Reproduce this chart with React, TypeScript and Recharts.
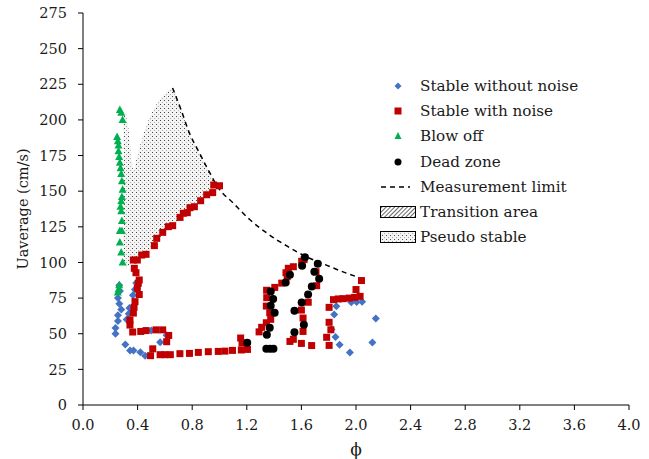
import React from 'react';
import { ComposedChart, Scatter, Line, Area, XAxis, YAxis, Legend } from 'recharts';

// phi / Uaverage pairs
const stableNoNoise = [
  [0.238, 50], [0.238, 54], [0.256, 59], [0.256, 63], [0.28, 67], [0.266, 71], [0.256, 75], [0.27, 80], [0.266, 84],
  [0.31, 42.5], [0.345, 38.3], [0.37, 38.3], [0.42, 37], [0.455, 34.6], [0.565, 44], [0.612, 49], [0.5, 52.2],
  [0.32, 60], [0.34, 68], [0.335, 64], [0.366, 77], [0.38, 81], [0.39, 85.5],
  [1.84, 63.5], [1.856, 69.2], [1.82, 53], [1.85, 47.7], [1.88, 42.3], [1.955, 36.9], [1.965, 72], [2.005, 72.2],
  [2.045, 72.5], [2.145, 60.6], [2.12, 43.9],
];

const stableWithNoise = [
  [0.958, 154.3], [1.0, 153.8], [0.95, 149], [0.906, 147.5], [0.862, 143.3], [0.816, 139.1], [0.784, 138.4],
  [0.764, 134.9], [0.735, 134.5], [0.711, 131.6], [0.657, 125.8], [0.625, 125.1], [0.584, 121.1], [0.54, 116.9],
  [0.523, 111.8], [0.462, 105.7], [0.43, 105.2], [0.398, 101.7], [0.369, 101.7], [0.376, 95.9], [0.388, 92.8],
  [0.412, 87.7], [0.405, 85.4], [0.398, 81.9], [0.412, 77.5], [0.381, 72.5], [0.374, 68.5], [0.369, 64.5],
  [0.344, 59.6], [0.344, 56.1], [0.364, 51.2], [0.423, 51.6], [0.462, 52.2], [0.535, 52.7], [0.584, 52.7],
  [0.628, 48.8], [0.613, 44.4], [0.511, 39.4], [0.495, 34.6], [0.565, 35.3], [0.6, 35.3], [0.64, 35.3],
  [0.71, 36], [0.78, 36.2], [0.845, 36.9], [0.918, 37.4], [0.991, 37.6], [1.04, 37.8], [1.095, 38.3],
  [1.16, 38.6], [1.205, 39], [1.155, 47], [1.165, 43.5],
  [1.602, 100.8], [1.62, 102], [1.541, 97], [1.504, 95.9], [1.487, 92.8], [1.496, 90], [1.456, 85.5],
  [1.405, 82.5], [1.345, 80.5], [1.346, 75.3], [1.343, 69.4], [1.368, 64.7], [1.375, 60.1], [1.343, 57.7],
  [1.309, 54.5], [1.29, 51.3], [1.707, 93.5], [1.712, 83.7], [1.65, 72.1], [1.6, 66.6], [1.612, 61],
  [1.612, 51.6], [1.541, 46.1], [1.516, 44.6], [1.6, 43.2], [1.675, 41.7],
  [2.04, 87.3], [2.0, 81], [2.03, 76.2], [1.99, 75.5], [1.95, 75], [1.905, 74.6], [1.87, 74.4], [1.835, 73.9],
  [1.803, 68.5], [1.803, 58], [1.816, 52.8], [1.785, 47.5], [1.803, 41.8],
];

const blowOff = [
  [0.27, 207], [0.28, 205], [0.29, 200], [0.25, 188], [0.255, 185], [0.26, 182], [0.26, 178], [0.265, 174],
  [0.27, 170], [0.275, 166], [0.28, 162], [0.285, 157], [0.29, 151], [0.285, 146], [0.28, 143], [0.275, 139],
  [0.28, 136], [0.285, 129], [0.27, 122], [0.285, 122], [0.27, 114], [0.28, 107], [0.29, 100], [0.265, 84],
  [0.26, 81], [0.255, 79],
];

const deadZone = [
  [1.626, 103.6], [1.605, 97.7], [1.72, 99.1], [1.695, 93.5], [1.73, 88.5], [1.516, 91.4], [1.485, 86],
  [1.676, 83.1], [1.649, 77.6], [1.602, 71.9], [1.549, 66.1], [1.375, 79.7], [1.393, 74.4], [1.375, 69.6],
  [1.404, 64.8], [1.368, 54.2], [1.347, 49.3], [1.618, 56.3], [1.549, 51], [1.203, 43.7], [1.343, 39.4],
  [1.37, 39.4], [1.395, 39.4],
];

const limitLine = [
  [0.656, 222.4], [0.718, 207.2], [0.779, 190.9], [0.84, 179.2], [0.916, 165.2], [0.992, 152.3],
  [1.099, 141.8], [1.221, 130.1], [1.344, 120.8], [1.496, 111.4], [1.618, 104.9], [1.771, 98.6],
  [1.924, 92.7], [2.02, 89.5],
];

// pseudo stable band: phi, lower edge, upper edge
const pseudoPhi = [0.295, 0.3, 0.31, 0.325, 0.345, 0.37, 0.4, 0.454, 0.527, 0.6, 0.656, 0.718, 0.779, 0.84, 0.916, 0.96];
const pseudoLow = [101, 100, 98, 97, 98, 101.7, 102.5, 105.5, 112, 122, 125.8, 131.8, 138, 141.5, 148, 154];
const pseudoHigh = [196, 203, 205, 200, 183, 165, 176, 193, 209, 218, 222.4, 207.2, 190.9, 179.2, 165.2, 156];

const xTicks = [0, 0.4, 0.8, 1.2, 1.6, 2.0, 2.4, 2.8, 3.2, 3.6, 4.0];
const yTicks = [0, 25, 50, 75, 100, 125, 150, 175, 200, 225, 250, 275];

const toXY = (arr: number[][]) => arr.map(([x, y]) => ({ x, y }));
const pseudoData = pseudoPhi.map((x, i) => ({ x, r: [pseudoLow[i], pseudoHigh[i]] }));

const BLUE = '#4472C4';
const RED = '#C00000';
const GREEN = '#00B050';
const FONT = "'DejaVu Serif', serif";

const Diamond = ({ cx, cy }: any) => (
  <polygon points={`${cx},${cy - 4} ${cx + 4},${cy} ${cx},${cy + 4} ${cx - 4},${cy}`} fill={BLUE} />
);
const Square = ({ cx, cy }: any) => <rect x={cx - 3.5} y={cy - 3.5} width={7} height={7} fill={RED} />;
const Tri = ({ cx, cy }: any) => (
  <polygon points={`${cx},${cy - 4.5} ${cx + 4},${cy + 3} ${cx - 4},${cy + 3}`} fill={GREEN} />
);
const Dot = ({ cx, cy }: any) => <circle cx={cx} cy={cy} r={4} fill="#000" />;

const legendRows = [
  { label: 'Stable without noise', icon: <polygon points="20,2.5 23.5,6 20,9.5 16.5,6" fill={BLUE} /> },
  { label: 'Stable with noise', icon: <rect x={16.5} y={2.5} width={7} height={7} fill={RED} /> },
  { label: 'Blow off', icon: <polygon points="20,2 23.5,9 16.5,9" fill={GREEN} /> },
  { label: 'Dead zone', icon: <circle cx={20} cy={6} r={3.5} fill="#000" /> },
  { label: 'Measurement limit', icon: <line x1={3} y1={6} x2={32} y2={6} stroke="#000" strokeWidth={1.5} strokeDasharray="5 4" /> },
  { label: 'Transition area', icon: <rect x={2.5} y={0.5} width={35} height={11} fill="url(#hatchL)" stroke="#000" /> },
  { label: 'Pseudo stable', icon: <rect x={2.5} y={0.5} width={35} height={11} fill="url(#dotsL)" stroke="#000" /> },
];

const renderLegend = () => (
  <div style={{ fontFamily: FONT, fontSize: 15.2, color: '#1a1a1a' }}>
    <svg width={0} height={0} style={{ position: 'absolute' }}>
      <defs>
        <pattern id="hatchL" width={3} height={3} patternUnits="userSpaceOnUse" patternTransform="rotate(45)">
          <rect width={3} height={3} fill="#fff" />
          <line x1={0} y1={0} x2={0} y2={3} stroke="#000" strokeWidth={1.2} />
        </pattern>
        <pattern id="dotsL" width={4} height={4} patternUnits="userSpaceOnUse">
          <rect width={4} height={4} fill="#f4f4f4" />
          <rect x={0} y={0} width={1} height={1} fill="#555" />
          <rect x={2} y={2} width={1} height={1} fill="#aaa" />
        </pattern>
      </defs>
    </svg>
    {legendRows.map((r) => (
      <div key={r.label} style={{ display: 'flex', alignItems: 'center', height: 25.3 }}>
        <svg width={40} height={12} style={{ marginRight: 2 }}>{r.icon}</svg>
        <span style={{ whiteSpace: 'nowrap' }}>{r.label}</span>
      </div>
    ))}
  </div>
);

const tickStyle = { fontFamily: FONT, fontSize: 14.5, fill: '#1a1a1a' };

export default function App() {
  return (
    <div style={{ position: 'absolute', left: 0, top: 0, background: '#fff' }}>
      <ComposedChart width={649} height={459} margin={{ top: 13, right: 20, bottom: 0, left: 0 }}>
        <defs>
          <pattern id="dots" width={4} height={4} patternUnits="userSpaceOnUse">
            <rect width={4} height={4} fill="#f4f4f4" />
            <rect x={0} y={0} width={1} height={1} fill="#444" />
            <rect x={2} y={2} width={1} height={1} fill="#b0b0b0" />
          </pattern>
        </defs>
        <XAxis
          type="number"
          dataKey="x"
          domain={[0, 4]}
          ticks={xTicks}
          tickFormatter={(v: number) => v.toFixed(1)}
          allowDataOverflow
          height={54}
          tickSize={5}
          tickMargin={10}
          stroke="#000"
          tick={tickStyle}
          label={{ value: 'ϕ', position: 'insideBottom', offset: 4, style: { ...tickStyle, fontSize: 17 } }}
        />
        <YAxis
          type="number"
          dataKey="y"
          domain={[0, 275]}
          ticks={yTicks}
          allowDataOverflow
          width={83}
          tickSize={5}
          tickMargin={11}
          stroke="#000"
          tick={tickStyle}
          label={{ value: 'Uaverage (cm/s)', angle: -90, position: 'insideLeft', offset: 23, style: { ...tickStyle, textAnchor: 'middle' } }}
        />
        <Area
          data={pseudoData}
          dataKey="r"
          type="monotone"
          fill="url(#dots)"
          fillOpacity={1}
          stroke="none"
          isAnimationActive={false}
          legendType="none"
        />
        <Line
          data={toXY(limitLine)}
          dataKey="y"
          type="monotone"
          stroke="#000"
          strokeWidth={1.5}
          strokeDasharray="5 4"
          dot={false}
          activeDot={false}
          isAnimationActive={false}
        />
        <Scatter data={toXY(stableNoNoise)} dataKey="y" shape={Diamond} isAnimationActive={false} />
        <Scatter data={toXY(stableWithNoise)} dataKey="y" shape={Square} isAnimationActive={false} />
        <Scatter data={toXY(blowOff)} dataKey="y" shape={Tri} isAnimationActive={false} />
        <Scatter data={toXY(deadZone)} dataKey="y" shape={Dot} isAnimationActive={false} />
        <Legend
          layout="vertical"
          align="center"
          verticalAlign="middle"
          content={renderLegend}
          wrapperStyle={{ left: 378, top: 73, width: 230, height: 180 }}
        />
      </ComposedChart>
    </div>
  );
}
